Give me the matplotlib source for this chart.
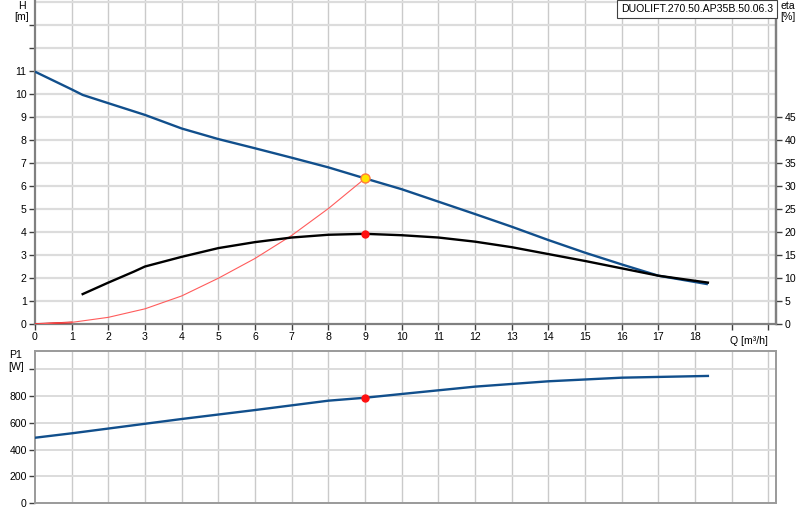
import matplotlib
matplotlib.use("Agg")
import matplotlib.pyplot as plt

plt.rcParams['font.family'] = ['Liberation Sans', 'DejaVu Sans']

# ---- data ----
q_h = [0, 1, 1.3, 2, 3, 4, 5, 6, 7, 8, 9, 10, 11, 12, 13, 14, 15, 16, 17, 18.35]
h = [10.97, 10.2, 9.96, 9.6, 9.09, 8.5, 8.04, 7.64, 7.23, 6.81, 6.33, 5.86, 5.32, 4.78, 4.23, 3.65, 3.1, 2.59, 2.1, 1.73]

q_eta = [1.3, 2, 2.7, 3, 4, 5, 6, 7, 8, 9, 10, 11, 12, 13, 14, 15, 16, 17, 18.35]
eta = [6.5, 9.0, 11.4, 12.5, 14.6, 16.5, 17.8, 18.8, 19.4, 19.6, 19.3, 18.8, 17.9, 16.7, 15.2, 13.7, 12.1, 10.5, 9.0]

q_sys = [0, 1, 2, 3, 4, 5, 6, 7, 8, 9]
h_sys = [0, 0.07, 0.29, 0.66, 1.22, 1.99, 2.85, 3.85, 5.02, 6.33]

q_p1 = [0, 1, 4, 6, 8, 9, 10, 12, 14, 16, 18.35]
p1 = [488, 521, 628, 695, 765, 787, 815, 870, 910, 937, 950]

duty_q = 9
duty_h = 6.33
duty_eta = 19.6
duty_p1 = 787

x_ticklabels = [str(i) for i in range(19)]
h_ticklabels = [str(i) for i in range(12)]
eta_ticklabels = [str(i) for i in range(0, 50, 5)]
p1_ticklabels = ['0', '200', '400', '600', '800']
title = "DUOLIFT.270.50.AP35B.50.06.3"

# ---- style ----
BLUE = '#114f8c'
SPINE = '#808080'
GRID_V = '#cacaca'
GRID_H = '#dcdcdc'
FS = 7.6

fig = plt.figure(figsize=(8, 5.2), dpi=100)
ax = fig.add_axes([35/800, (520-324)/520, 741/800, 324/520])
axb = fig.add_axes([35/800, (520-503)/520, 741/800, 152/520])

xmax = 741/36.67
hmax = 324/23.0

# top axes
ax.set_xlim(0, xmax)
ax.set_ylim(0, hmax)
for q in range(1, 21):
    ax.axvline(q, color=GRID_V, lw=1.0, zorder=0)
for y in range(1, 15):
    ax.axhline(y, color=GRID_H, lw=1.6, zorder=0)

ax.set_xticks(range(21))
ax.set_xticklabels(x_ticklabels + ['', ''], fontsize=FS)
ax.set_yticks(range(14))
ax.set_yticklabels(h_ticklabels + ['', ''], fontsize=FS)
ax.tick_params(direction='out', length=4, width=1, color='#404040', pad=2)
ax.spines['top'].set_visible(False)
for s in ['left', 'bottom', 'right']:
    ax.spines[s].set_color(SPINE)
    ax.spines[s].set_linewidth(1.6)

ax.plot(q_sys[:2], h_sys[:2], color='#d00000', lw=1.2, zorder=3)
ax.plot(q_sys, h_sys, color='#ff5c5c', lw=0.8, zorder=3)
ax.plot(q_h, h, color=BLUE, lw=1.7, zorder=4, solid_capstyle='butt')
ax.plot([duty_q], [duty_h], 'o', ms=6.5, mfc='#ffe400', mec='#ff7a3c', mew=1.0, zorder=6)

ax2 = ax.twinx()
ax2.set_ylim(0, hmax*5)
ax2.set_yticks(range(0, 50, 5))
ax2.set_yticklabels(eta_ticklabels, fontsize=FS)
ax2.tick_params(direction='out', length=4, width=1, color='#404040', pad=2)
for s in ['top', 'left', 'bottom']:
    ax2.spines[s].set_visible(False)
ax2.spines['right'].set_color(SPINE)
ax2.spines['right'].set_linewidth(1.6)
ax2.plot(q_eta, eta, color='black', lw=1.7, zorder=4)
ax2.plot([duty_q], [duty_eta], 'o', ms=5, color='#ff1010', zorder=6)

ax.text(18.95, -0.5, "Q [m³/h]", fontsize=FS, ha='left', va='top')
fig.text(22/800, 1-6/520, "H", fontsize=FS, ha='center', va='center')
fig.text(22/800, 1-17/520, "[m]", fontsize=FS, ha='center', va='center')
fig.text(788/800, 1-6/520, "eta", fontsize=FS, ha='center', va='center')
fig.text(788/800, 1-17/520, "[%]", fontsize=FS, ha='center', va='center')
fig.text(697/800, 1-9/520, title, fontsize=FS, ha='center', va='center',
         bbox=dict(boxstyle='square,pad=0.35', fc='white', ec='#404040', lw=0.8))

# bottom axes
pmax = 152/26.75*200
axb.set_xlim(0, xmax)
axb.set_ylim(0, pmax)
for q in range(1, 21):
    axb.axvline(q, color=GRID_V, lw=1.0, zorder=0)
for y in range(200, 1200, 200):
    axb.axhline(y, color=GRID_H, lw=1.4, zorder=0)
axb.set_xticks([])
axb.set_yticks(range(0, 1200, 200))
axb.set_yticklabels(p1_ticklabels + [''], fontsize=FS)
axb.tick_params(direction='out', length=4, width=1, color='#404040', pad=2)
for s in axb.spines.values():
    s.set_color('#9a9a9a')
    s.set_linewidth(1.4)
axb.plot(q_p1, p1, color=BLUE, lw=1.7, zorder=4)
axb.plot([duty_q], [duty_p1], 'o', ms=5, color='#ff1010', zorder=6)
fig.text(16/800, 1-355/520, "P1", fontsize=FS, ha='center', va='center')
fig.text(16/800, 1-367/520, "[W]", fontsize=FS, ha='center', va='center')

fig.savefig("out.png", dpi=100)
